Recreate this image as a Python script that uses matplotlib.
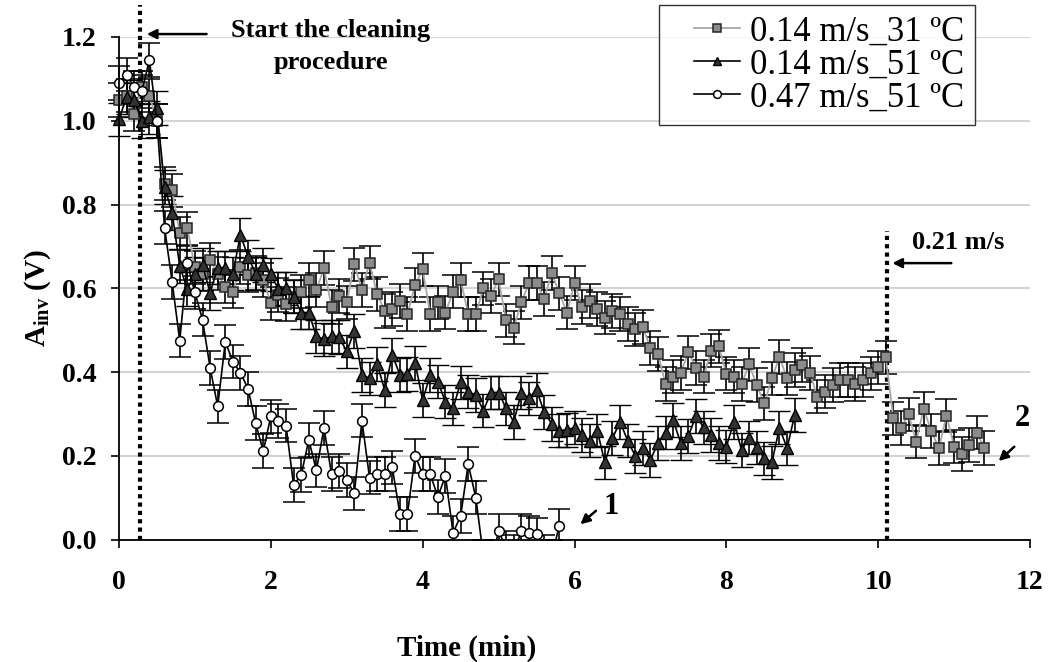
import numpy as np
import matplotlib
matplotlib.use('Agg')
import matplotlib.pyplot as plt
from matplotlib.lines import Line2D
from matplotlib.legend_handler import HandlerLine2D
from matplotlib.transforms import Bbox, TransformedBbox

plt.rcParams['font.family'] = ['Liberation Serif', 'DejaVu Serif']
plt.rcParams['mathtext.fontset'] = 'custom'
plt.rcParams['mathtext.rm'] = 'Liberation Serif'
plt.rcParams['mathtext.bf'] = 'Liberation Serif:bold'

# dados (intervalo de amostragem 0.1 min)
passo = 0.1

a_31 = [1.05, 1.06, 1.015, 1.08, 1.06, 1.0, 0.85, 0.834, 0.731, 0.743,
        0.65, 0.633, 0.667, 0.635, 0.604, 0.592, 0.651, 0.632, 0.636, 0.62,
        0.564, 0.584, 0.562, 0.58, 0.592, 0.62, 0.596, 0.648, 0.555, 0.582,
        0.566, 0.657, 0.596, 0.661, 0.586, 0.546, 0.55, 0.57, 0.538, 0.608,
        0.645, 0.538, 0.566, 0.542, 0.592, 0.62, 0.538, 0.538, 0.60, 0.582,
        0.621, 0.523, 0.506, 0.566, 0.612, 0.612, 0.574, 0.637, 0.588, 0.542,
        0.612, 0.555, 0.57, 0.55, 0.530, 0.546, 0.539, 0.515, 0.502, 0.508,
        0.457, 0.443, 0.371, 0.389, 0.398, 0.447, 0.41, 0.389, 0.451, 0.461,
        0.396, 0.389, 0.371, 0.418, 0.369, 0.325, 0.385, 0.436, 0.385, 0.405,
        0.417, 0.398, 0.341, 0.353, 0.369, 0.381, 0.381, 0.371, 0.381, 0.397,
        0.411, 0.435, 0.289, 0.266, 0.299, 0.234, 0.312, 0.259, 0.218, 0.296,
        0.222, 0.204, 0.226, 0.255, 0.218]

a_51 = [1.003, 1.057, 1.049, 1.0, 1.008, 1.03, 0.842, 0.78, 0.653, 0.598,
        0.635, 0.655, 0.589, 0.649, 0.649, 0.635, 0.728, 0.675, 0.635, 0.655,
        0.633, 0.598, 0.60, 0.58, 0.542, 0.542, 0.485, 0.478, 0.485, 0.483,
        0.449, 0.498, 0.393, 0.385, 0.419, 0.357, 0.441, 0.393, 0.395, 0.422,
        0.333, 0.393, 0.377, 0.329, 0.313, 0.375, 0.353, 0.345, 0.308, 0.351,
        0.351, 0.313, 0.281, 0.351, 0.337, 0.357, 0.305, 0.276, 0.260, 0.262,
        0.267, 0.25, 0.236, 0.26, 0.184, 0.242, 0.281, 0.236, 0.20, 0.218,
        0.19, 0.231, 0.255, 0.285, 0.23, 0.247, 0.295, 0.268, 0.25, 0.23,
        0.222, 0.281, 0.214, 0.243, 0.22, 0.194, 0.184, 0.267, 0.218, 0.297]

a_047 = [1.09, 1.11, 1.08, 1.07, 1.145, 1.0, 0.745, 0.615, 0.475, 0.66,
         0.59, 0.525, 0.41, 0.318, 0.472, 0.425, 0.398, 0.36, 0.278, 0.211,
         0.294, 0.283, 0.272, 0.130, 0.154, 0.238, 0.165, 0.266, 0.156, 0.164,
         0.142, 0.110, 0.284, 0.148, 0.156, 0.156, 0.172, 0.061, 0.061, 0.20,
         0.156, 0.156, 0.102, 0.152, 0.016, 0.056, 0.18, 0.10, -0.04, -0.06,
         0.02, -0.02, -0.03, 0.02, 0.016, 0.012, -0.03, -0.04, 0.033]

erro = 0.04
rotulos = ['0.14 m/s_31 ºC', '0.14 m/s_51 ºC', '0.47 m/s_51 ºC']

t_31 = np.arange(len(a_31)) * passo
t_51 = np.arange(len(a_51)) * passo
t_047 = np.arange(len(a_047)) * passo

fig = plt.figure(figsize=(10.52, 6.62), dpi=100)
ax = fig.add_axes([119 / 1052, 1 - 539.5 / 662, 911 / 1052, 502.5 / 662])

kw = dict(yerr=erro, ecolor='black', elinewidth=1.2, capsize=8, capthick=1.2)
s1 = ax.errorbar(t_31, a_31, color='#a8a8a8', lw=1.3, marker='s', ms=6.5,
                 mfc='#8c8c8c', mec='#262626', mew=1.1, label=rotulos[0], **kw)
s2 = ax.errorbar(t_51, a_51, color='black', lw=1.2, marker='^', ms=8,
                 mfc='#333333', mec='black', mew=1.0, label=rotulos[1], **kw)
s3 = ax.errorbar(t_047, a_047, color='black', lw=1.2, marker='o', ms=7,
                 mfc='white', mec='black', mew=1.1, label=rotulos[2], **kw)

ax.set_xlim(0, 12)
ax.set_ylim(0, 1.2)

# recorte um pouco mais largo à esquerda para os marcadores em t = 0
clip = TransformedBbox(Bbox.from_extents(-0.02, 0, 1.01, 1.05), ax.transAxes)
for art in ax.lines + list(ax.collections):
    art.set_clip_path(None)
    art.set_clip_box(clip)

ax.set_xticks(range(0, 13, 2))
ax.set_yticks(np.arange(0, 1.21, 0.2))
ax.set_yticklabels(['%.1f' % v for v in np.arange(0, 1.21, 0.2)])
ax.tick_params(direction='out', length=6, width=1.2, labelsize=20)
ax.tick_params(axis='x', pad=16)
ax.tick_params(axis='y', pad=10)
for lab in ax.get_xticklabels() + ax.get_yticklabels():
    lab.set_fontweight('bold')

ax.yaxis.grid(True, color='#d4d4d4', lw=1.5)
ax.set_axisbelow(True)
ax.spines['top'].set_visible(False)
ax.spines['right'].set_visible(False)
ax.spines['left'].set_linewidth(1.3)
ax.spines['bottom'].set_linewidth(1.3)

ax.set_xlabel('Time (min)', fontsize=21, fontweight='bold')
ax.xaxis.set_label_coords(0.382, -0.19)
ax.set_ylabel(r'A$_{\mathbf{inv}}$ (V)', fontsize=21, fontweight='bold')
ax.yaxis.set_label_coords(-0.072, 0.48)

# linhas pontilhadas e anotações
ax.axvline(0.28, ymin=0, ymax=1.064, color='black', lw=3, ls=(0, (1, 1)), clip_on=False)
ax.axvline(10.12, ymin=0, ymax=0.613, color='black', lw=3, ls=(0, (1, 1)), clip_on=False)

seta = dict(arrowstyle='-|>', color='black', lw=1.8, mutation_scale=14)
ax.annotate('', xy=(0.33, 1.207), xytext=(1.19, 1.207), arrowprops=seta, annotation_clip=False)
ax.text(2.79, 1.178, 'Start the cleaning\nprocedure', ha='center', va='center',
        fontsize=19, fontweight='bold', linespacing=1.5, clip_on=False)

ax.annotate('', xy=(10.15, 0.66), xytext=(11.0, 0.66), arrowprops=seta, annotation_clip=False)
ax.text(11.06, 0.71, '0.21 m/s', ha='center', va='center', fontsize=19, fontweight='bold')

ax.annotate('', xy=(6.05, 0.032), xytext=(6.31, 0.073), arrowprops=seta, annotation_clip=False)
ax.text(6.48, 0.078, '1', ha='center', va='center', fontsize=22, fontweight='bold')

ax.annotate('', xy=(11.56, 0.183), xytext=(11.82, 0.226), arrowprops=seta, annotation_clip=False)
ax.text(11.9, 0.29, '2', ha='center', va='center', fontsize=22, fontweight='bold', clip_on=False)

leg = ax.legend([s1[0], s2[0], s3[0]], rotulos, loc='upper right',
                bbox_to_anchor=(975 / 1052, 1 - 5 / 662), bbox_transform=fig.transFigure,
                fontsize=25, frameon=True, fancybox=False, edgecolor='black',
                handlelength=2.03, handletextpad=0.29, labelspacing=0.0, borderpad=0.3,
                borderaxespad=0, markerscale=0.8,
                handler_map={Line2D: HandlerLine2D(xpad=0.71)})
leg.get_frame().set_linewidth(1.0)

fig.savefig('out.png', dpi=100)
